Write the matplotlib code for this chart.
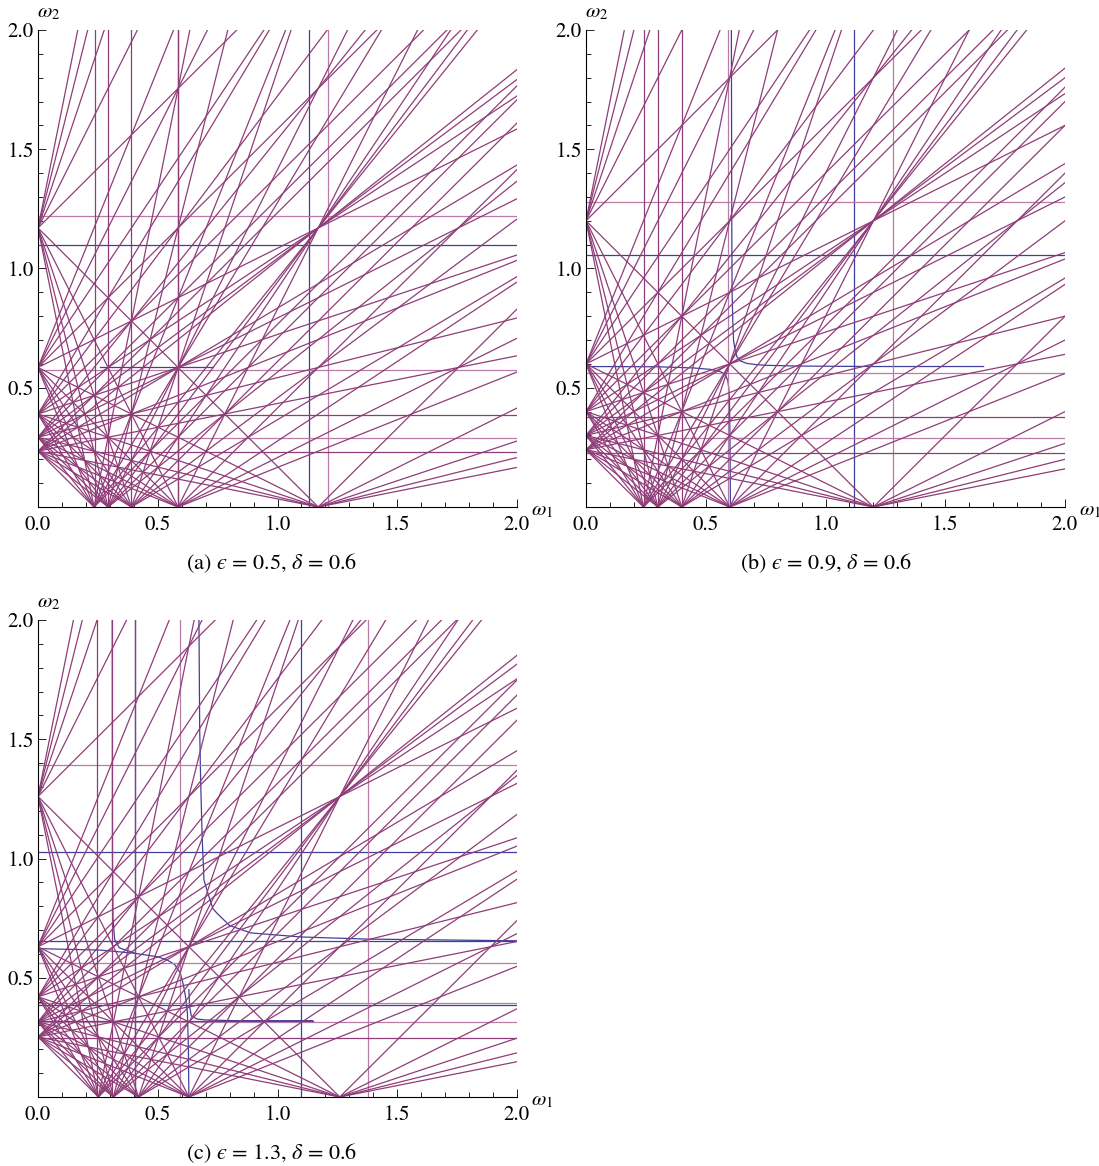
import matplotlib
matplotlib.use("Agg")
import matplotlib.pyplot as plt
import matplotlib.ticker as mticker

plt.rcParams.update({
    "font.family": "STIXGeneral",
    "mathtext.fontset": "stix",
})

PURPLE = "#8f3d78"
BLUE = "#3f3f9c"
PINK = "#b97ca6"
LW = 0.9

# resonance orders and base frequency of each panel
ORDERS = [1, 2, 3, 4, 5]
OMEGA0 = [1.17, 1.20, 1.26]
CAPTIONS = [
    "(a) $\u03f5$ = 0.5, $\\delta$ = 0.6",
    "(b) $\u03f5$ = 0.9, $\\delta$ = 0.6",
    "(c) $\u03f5$ = 1.3, $\\delta$ = 0.6",
]

# panel (a)
A_VERT_PURPLE = [0.236, 0.293, 0.39, 0.585]
A_VERT_BLUE = [0.585, 1.13]
A_VERT_PINK = [1.21]
A_HORZ_PURPLE = [0.386, 0.232]
A_HORZ_BLUE = [1.10]
A_HORZ_PINK = [1.22, 0.574, 0.288]
A_CURVE_X = [[0.26, 0.73]]
A_CURVE_Y = [[0.585, 0.585]]

# panel (b)
B_VERT_PURPLE = [0.243, 0.302, 0.40]
B_VERT_BLUE = [1.117]
B_VERT_PINK = [0.594, 1.28]
B_HORZ_PURPLE = [0.379, 0.228]
B_HORZ_BLUE = [1.057]
B_HORZ_PINK = [1.28, 0.562, 0.288]
B_CURVE_X = [
    [0.607, 0.608, 0.609, 0.610, 0.613, 0.616, 0.622, 0.63, 0.645, 0.672,
     0.71, 0.756, 0.88, 1.2, 1.66],
    [0.0, 0.3, 0.45, 0.52, 0.56, 0.575, 0.585, 0.592, 0.596, 0.599, 0.601,
     0.603],
    [0.60, 0.65],
]
B_CURVE_Y = [
    [2.0, 1.5, 1.1, 0.896, 0.78, 0.70, 0.66, 0.63, 0.612, 0.602,
     0.597, 0.594, 0.591, 0.589, 0.589],
    [0.589, 0.588, 0.583, 0.577, 0.568, 0.56, 0.547, 0.53, 0.5, 0.45, 0.3,
     0.0],
    [0.29, 0.29],
]

# panel (c)
C_VERT_PURPLE = [0.245, 0.308, 0.406]
C_VERT_BLUE = [0.406, 1.10]
C_VERT_PINK = [0.594, 1.377]
C_HORZ_PURPLE = [0.249]
C_HORZ_BLUE = [1.026, 0.654, 0.386]
C_HORZ_PINK = [1.39, 0.563, 0.395, 0.313]
C_CURVE_X = [
    [0.672, 0.675, 0.679, 0.685, 0.693, 0.71, 0.73, 0.748, 0.8, 0.888, 1.0,
     1.098, 1.377, 2.0],
    [0.0, 0.26, 0.4, 0.5, 0.54, 0.57, 0.594, 0.607, 0.616, 0.624, 0.628,
     0.63],
    [0.63, 0.633, 0.64, 0.664, 0.7, 0.82, 1.147],
    [0.31, 0.311, 0.313, 0.32, 0.34, 0.4],
    [0.0, 1.147],
]
C_CURVE_Y = [
    [2.0, 1.55, 1.33, 1.10, 0.91, 0.852, 0.79, 0.77, 0.719, 0.688, 0.679,
     0.671, 0.662, 0.655],
    [0.622, 0.616, 0.603, 0.588, 0.574, 0.556, 0.52, 0.47, 0.42, 0.35, 0.2,
     0.0],
    [0.45, 0.38, 0.34, 0.327, 0.323, 0.32, 0.32],
    [2.0, 1.0, 0.75, 0.66, 0.625, 0.605],
    [0.32, 0.32],
]

PANELS = [
    (A_VERT_PURPLE, A_VERT_BLUE, A_VERT_PINK, A_HORZ_PURPLE, A_HORZ_BLUE,
     A_HORZ_PINK, A_CURVE_X, A_CURVE_Y),
    (B_VERT_PURPLE, B_VERT_BLUE, B_VERT_PINK, B_HORZ_PURPLE, B_HORZ_BLUE,
     B_HORZ_PINK, B_CURVE_X, B_CURVE_Y),
    (C_VERT_PURPLE, C_VERT_BLUE, C_VERT_PINK, C_HORZ_PURPLE, C_HORZ_BLUE,
     C_HORZ_PINK, C_CURVE_X, C_CURVE_Y),
]

W, H = 1099, 1166
fig = plt.figure(figsize=(W / 100, H / 100), dpi=100)


def axes_at(left, top, right, bottom):
    return fig.add_axes([left / W, 1 - bottom / H, (right - left) / W,
                         (bottom - top) / H])


boxes = [(38, 30, 517, 507), (586, 30, 1065, 507), (38, 620, 517, 1097)]
cap_x = [272, 826, 272]

for box, om, spec, cap, cxp in zip(boxes, OMEGA0, PANELS, CAPTIONS, cap_x):
    vp, vb, vk, hp, hb, hk, cx, cy = spec
    ax = axes_at(*box)

    for x in vb:
        ax.axvline(x, color=BLUE, lw=LW, zorder=2)
    for y in hb:
        ax.axhline(y, color=BLUE, lw=LW, zorder=2)
    for xs, ys in zip(cx, cy):
        ax.plot(xs, ys, color=BLUE, lw=LW, zorder=2)
    for x in vk:
        ax.axvline(x, color=PINK, lw=LW, zorder=3)
    for y in hk:
        ax.axhline(y, color=PINK, lw=LW, zorder=3)
    for x in vp:
        ax.axvline(x, color=PURPLE, lw=LW, zorder=3)
    for y in hp:
        ax.axhline(y, color=PURPLE, lw=LW, zorder=3)

    for m in ORDERS:
        for n in ORDERS:
            x0, y0 = om / m, om / n
            ax.axline((x0, 0), (0, y0), color=PURPLE, lw=LW, zorder=4)
            ax.axline((x0, 0), slope=m / n, color=PURPLE, lw=LW, zorder=4)
            ax.axline((0, y0), slope=m / n, color=PURPLE, lw=LW, zorder=4)

    ax.set_xlim(0, 2)
    ax.set_ylim(0, 2)
    for s in ("top", "right"):
        ax.spines[s].set_visible(False)
    for s in ("left", "bottom"):
        ax.spines[s].set_linewidth(0.8)
        ax.spines[s].set_zorder(6)

    ax.set_xticks([0, 0.5, 1.0, 1.5, 2.0])
    ax.set_yticks([0.5, 1.0, 1.5, 2.0])
    ax.xaxis.set_minor_locator(mticker.MultipleLocator(0.1))
    ax.yaxis.set_minor_locator(mticker.MultipleLocator(0.1))
    ax.xaxis.set_major_formatter(mticker.FormatStrFormatter("%.1f"))
    ax.yaxis.set_major_formatter(mticker.FormatStrFormatter("%.1f"))
    ax.tick_params(which="both", direction="in", width=0.6, labelsize=15)
    ax.tick_params(which="major", length=6)
    ax.tick_params(which="minor", length=3.5)
    ax.tick_params(axis="x", pad=6)
    ax.tick_params(axis="y", pad=3)

    ax.text(0.022, 1.036, r"$\omega_2$", transform=ax.transAxes,
            ha="center", va="center", fontsize=15)
    ax.text(1.052, -0.008, r"$\omega_1$", transform=ax.transAxes,
            ha="center", va="center", fontsize=15)

    fig.text(cxp / W, 1 - (box[3] + 56) / H, cap, ha="center",
             va="center", fontsize=16)

fig.savefig("out.png", dpi=100)
